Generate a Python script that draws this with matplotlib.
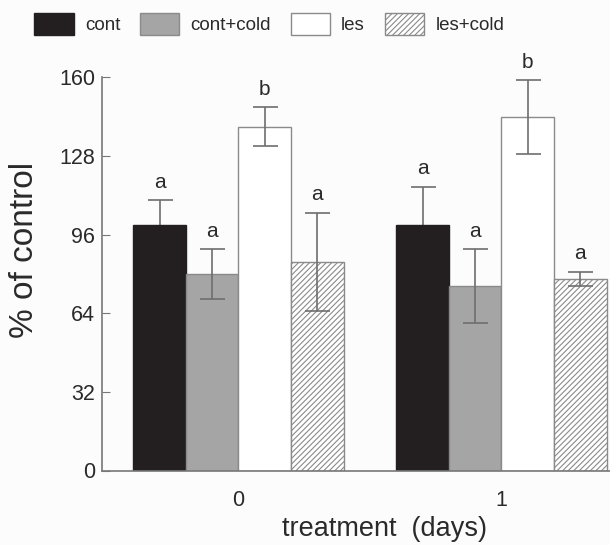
import matplotlib
matplotlib.use("Agg")
import matplotlib.pyplot as plt
import numpy as np
from matplotlib.patches import Patch

plt.rcParams['font.family'] = ['Liberation Sans', 'DejaVu Sans']
plt.rcParams['hatch.linewidth'] = 0.8

days = ["0", "1"]
series = ["cont", "cont+cold", "les", "les+cold"]
means = {
    "cont":      [100, 100],
    "cont+cold": [80, 75],
    "les":       [140, 144],
    "les+cold":  [85, 78],
}
errs = {
    "cont":      [10, 15.5],
    "cont+cold": [10, 15],
    "les":       [8, 15],
    "les+cold":  [20, 3],
}
letters = {
    "cont":      ["a", "a"],
    "cont+cold": ["a", "a"],
    "les":       ["b", "b"],
    "les+cold":  ["a", "a"],
}
yticks = [0, 32, 64, 96, 128, 160]

styles = {
    "cont":      dict(facecolor="#231f20", edgecolor="#231f20", hatch=None),
    "cont+cold": dict(facecolor="#a5a5a5", edgecolor="#8a8a8a", hatch=None),
    "les":       dict(facecolor="white", edgecolor="#8a8a8a", hatch=None),
    "les+cold":  dict(facecolor="white", edgecolor="#8a8a8a", hatch="//////"),
}

fig = plt.figure(figsize=(6.1, 5.45), dpi=100)
fig.patch.set_facecolor("#fcfcfc")
ax = fig.add_axes([102/610, 1-470.5/545, 1-102/610, (470.5-77.5)/545])
ax.set_facecolor("#fcfcfc")

x = np.arange(len(days))
w = 0.2
handles = []
for i, s in enumerate(series):
    pos = x + (i - 1.5) * w
    st = styles[s]
    ax.bar(pos, means[s], width=w, facecolor=st["facecolor"],
           edgecolor=st["edgecolor"], hatch=st["hatch"], linewidth=1.0, zorder=2)
    ax.errorbar(pos, means[s], yerr=errs[s], fmt="none", ecolor="#6e6e6e",
                elinewidth=1.2, capsize=9, capthick=1.2,
                zorder=1 if s == "cont" else 3)
    for p, m, e, l in zip(pos, means[s], errs[s], letters[s]):
        ax.annotate(l, (p, m + e), xytext=(0, 6), textcoords="offset points",
                    ha="center", va="bottom", fontsize=15, color="#2a2a2a")
    handles.append(Patch(facecolor=st["facecolor"], edgecolor=st["edgecolor"],
                         hatch=st["hatch"], label=s))

ax.set_xlim(-0.519, 1.413)
ax.set_ylim(0, 160)
ax.set_yticks(yticks)
ax.set_xticks(x)
ax.set_xticklabels(days)
ax.tick_params(axis="y", direction="in", length=6, color="#777777", labelsize=15.5,
               labelcolor="#2a2a2a", pad=5)
ax.tick_params(axis="x", length=0, labelsize=15.5, labelcolor="#2a2a2a", pad=14)
for sp in ["top", "right"]:
    ax.spines[sp].set_visible(False)
for sp in ["left", "bottom"]:
    ax.spines[sp].set_color("#777777")
    ax.spines[sp].set_linewidth(1.2)

ax.set_ylabel("% of control", fontsize=24, color="#2a2a2a", va="center")
ax.yaxis.set_label_coords(-(102 - 25) / 508, (470.5 - 250) / 393)
ax.set_xlabel("treatment  (days)", fontsize=19.5, color="#2a2a2a", va="top")
ax.xaxis.set_label_coords((385 - 102) / 508, -(516 - 470.5) / 393)

fig.legend(handles=handles, loc="upper left", bbox_to_anchor=(21/610, 1.0), ncol=4,
           frameon=False, fontsize=13.5, handlelength=2.1, handleheight=1.4,
           handletextpad=0.6, columnspacing=1.05, borderaxespad=0.3, labelcolor="#2a2a2a")

fig.savefig("out.png", dpi=100, facecolor=fig.get_facecolor())
